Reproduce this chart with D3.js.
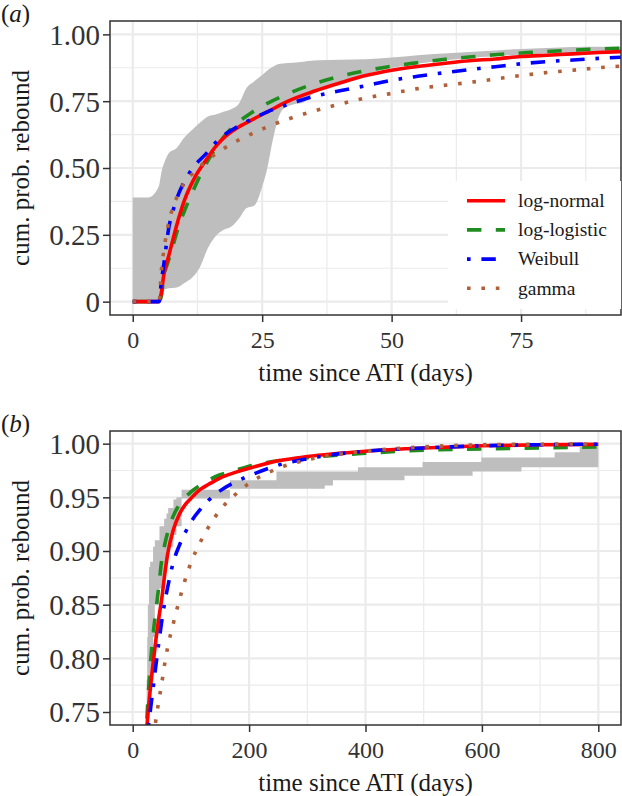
<!DOCTYPE html>
<html><head><meta charset="utf-8">
<script src="https://cdn.jsdelivr.net/npm/d3@7"></script>
<style>
body{margin:0;background:#fff}
svg{display:block}
text{font-family:"Liberation Serif","Times New Roman",serif}
</style>
</head><body>
<svg id="chart" width="622" height="796"></svg>
<script>
// ---------- Panel (a) data ----------
const seriesNames = ["log-normal", "log-logistic", "Weibull", "gamma"];
const seriesColors = ["#ff0000", "#1e8c1e", "#0000ff", "#b0603a"];

const aTime       = [0, 5.1, 5.5, 6, 7, 8, 9, 10, 12, 14, 16, 18, 20, 23, 26, 30, 35, 40, 45, 50, 55, 60, 65, 70, 75, 80, 85, 90, 95];
const aLogNormal  = [0, 0, 0.03, 0.10, 0.175, 0.25, 0.32, 0.38, 0.465, 0.525, 0.58, 0.62, 0.648, 0.68, 0.71, 0.75, 0.787, 0.818, 0.846, 0.866, 0.88, 0.891, 0.901, 0.908, 0.917, 0.922, 0.927, 0.932, 0.936];
const aLogLogistic= [0, 0, 0.02, 0.09, 0.16, 0.225, 0.29, 0.34, 0.43, 0.51, 0.573, 0.627, 0.665, 0.708, 0.742, 0.778, 0.815, 0.843, 0.864, 0.881, 0.894, 0.906, 0.915, 0.924, 0.93, 0.936, 0.941, 0.945, 0.949];
const aWeibull    = [0, 0, 0.07, 0.14, 0.28, 0.355, 0.41, 0.45, 0.51, 0.55, 0.595, 0.628, 0.652, 0.683, 0.71, 0.738, 0.768, 0.789, 0.808, 0.828, 0.843, 0.856, 0.868, 0.879, 0.89, 0.898, 0.904, 0.91, 0.915];
const aGamma      = [0, 0, 0.11, 0.19, 0.30, 0.365, 0.41, 0.445, 0.487, 0.524, 0.552, 0.578, 0.60, 0.628, 0.654, 0.683, 0.713, 0.739, 0.762, 0.779, 0.797, 0.809, 0.82, 0.833, 0.846, 0.857, 0.866, 0.875, 0.882];

const aBandTime  = [0, 3, 5, 5.6, 6.2, 7, 8.5, 10, 11.5, 13, 14.5, 16, 17.5, 19, 20.5, 22, 23.5, 25, 26, 27, 28, 29, 31, 33, 34, 36, 40, 45, 50, 55, 60, 65, 70, 75, 80, 85, 90, 95];
const aBandUpper = [0.39, 0.39, 0.43, 0.49, 0.525, 0.556, 0.575, 0.615, 0.643, 0.67, 0.693, 0.70, 0.71, 0.72, 0.74, 0.80, 0.825, 0.848, 0.865, 0.878, 0.888, 0.891, 0.894, 0.898, 0.90, 0.903, 0.905, 0.907, 0.913, 0.922, 0.928, 0.934, 0.94, 0.945, 0.949, 0.953, 0.954, 0.954];
const aBandLower = [0, 0, 0, 0.03, 0.046, 0.05, 0.053, 0.07, 0.09, 0.13, 0.20, 0.245, 0.268, 0.28, 0.31, 0.35, 0.36, 0.43, 0.50, 0.60, 0.68, 0.72, 0.738, 0.745, 0.765, 0.79, 0.822, 0.852, 0.874, 0.89, 0.902, 0.912, 0.918, 0.924, 0.928, 0.931, 0.934, 0.936];

const aXTicks = [0, 25, 50, 75];
const aXMinor = [12.5, 37.5, 62.5, 87.5];
const aYTicks = [0, 0.25, 0.5, 0.75, 1];
const aYMinor = [0.125, 0.375, 0.625, 0.875];

// ---------- Panel (b) data ----------
const bTime        = [20, 25, 30, 35, 40, 45, 50, 55, 60, 70, 80, 90, 100, 115, 130, 150, 175, 200, 250, 300, 400, 500, 600, 700, 800];
const bLogNormal   = [0.70, 0.74, 0.77, 0.795, 0.818, 0.838, 0.856, 0.878, 0.897, 0.92, 0.934, 0.943, 0.949, 0.957, 0.962, 0.968, 0.973, 0.977, 0.984, 0.988, 0.993, 0.996, 0.998, 0.999, 0.9993];
const bLogLogistic = [0.69, 0.75, 0.792, 0.822, 0.845, 0.868, 0.892, 0.906, 0.917, 0.933, 0.943, 0.95, 0.955, 0.961, 0.966, 0.971, 0.975, 0.979, 0.984, 0.987, 0.991, 0.994, 0.995, 0.996, 0.997];
const bWeibull     = [0.70, 0.728, 0.75, 0.772, 0.794, 0.815, 0.835, 0.852, 0.866, 0.89, 0.905, 0.917, 0.927, 0.938, 0.947, 0.956, 0.964, 0.97, 0.98, 0.986, 0.993, 0.996, 0.998, 0.999, 0.9995];
const bGamma       = [0.66, 0.685, 0.705, 0.725, 0.743, 0.761, 0.777, 0.795, 0.81, 0.833, 0.854, 0.873, 0.889, 0.907, 0.922, 0.938, 0.952, 0.963, 0.977, 0.985, 0.993, 0.997, 0.999, 0.9995, 0.9998];

const bBandTime  = [18, 22, 24, 25, 26, 28, 30, 35, 38, 46, 54, 58, 61, 70, 75, 84, 167, 247, 330, 344, 387, 467, 498, 584, 599, 668, 725, 768, 800];
const bBandUpper = [0.70, 0.74, 0.78, 0.82, 0.85, 0.885, 0.89, 0.904, 0.91, 0.923, 0.93, 0.935, 0.94, 0.948, 0.95, 0.957, 0.966, 0.974, 0.974, 0.974, 0.978, 0.978, 0.983, 0.983, 0.987, 0.987, 0.992, 0.997, 0.997];
const bBandLower = [0.50, 0.60, 0.70, 0.74, 0.75, 0.765, 0.78, 0.82, 0.85, 0.865, 0.885, 0.895, 0.904, 0.915, 0.923, 0.949, 0.958, 0.958, 0.961, 0.966, 0.966, 0.970, 0.970, 0.974, 0.974, 0.978, 0.978, 0.978, 0.978];

const bXTicks = [0, 200, 400, 600, 800];
const bXMinor = [100, 300, 500, 700];
const bYTicks = [0.75, 0.80, 0.85, 0.90, 0.95, 1.00];
const bYMinor = [0.775, 0.825, 0.875, 0.925, 0.975];

// ---------- Styles ----------
const LW = 3.6;
const dashes = [null, `${4*LW},${4*LW}`, `${LW},${3*LW},${4*LW},${3*LW}`, `${LW},${3*LW}`];

const svg = d3.select("#chart");

function panel(opts) {
  const {left, right, top, bottom, xDomain, yDomain, xTicks, xMinor, yTicks, yMinor,
         yFmt, label, band, bandCurve, time, series, id} = opts;
  const x = d3.scaleLinear().domain(xDomain).range([left, right]);
  const y = d3.scaleLinear().domain(yDomain).range([bottom, top]);
  const g = svg.append("g");

  g.append("clipPath").attr("id", id).append("rect")
    .attr("x", left).attr("y", top).attr("width", right - left).attr("height", bottom - top);

  // grid
  const grid = g.append("g");
  xMinor.forEach(v => grid.append("line").attr("x1", x(v)).attr("x2", x(v)).attr("y1", top).attr("y2", bottom)
    .attr("stroke", "#ebebeb").attr("stroke-width", 1.2));
  yMinor.forEach(v => grid.append("line").attr("y1", y(v)).attr("y2", y(v)).attr("x1", left).attr("x2", right)
    .attr("stroke", "#ebebeb").attr("stroke-width", 1.2));
  xTicks.forEach(v => grid.append("line").attr("x1", x(v)).attr("x2", x(v)).attr("y1", top).attr("y2", bottom)
    .attr("stroke", "#ebebeb").attr("stroke-width", 2.2));
  yTicks.forEach(v => grid.append("line").attr("y1", y(v)).attr("y2", y(v)).attr("x1", left).attr("x2", right)
    .attr("stroke", "#ebebeb").attr("stroke-width", 2.2));

  const plot = g.append("g").attr("clip-path", `url(#${id})`);
  // band
  const bandData = band.t.map((t, i) => ({t, lo: band.lo[i], hi: band.hi[i]}));
  plot.append("path").datum(bandData)
    .attr("fill", "#bebebe")
    .attr("d", d3.area().x(d => x(d.t)).y0(d => y(d.lo)).y1(d => y(d.hi)).curve(bandCurve));

  // lines: draw order log-logistic, log-normal, Weibull, gamma
  const order = [1, 0, 2, 3];
  order.forEach(k => {
    const vals = series[k];
    const data = time.map((t, i) => ({t, v: vals[i]}));
    plot.append("path").datum(data)
      .attr("fill", "none")
      .attr("stroke", seriesColors[k])
      .attr("stroke-width", LW)
      .attr("stroke-dasharray", dashes[k])
      .attr("d", d3.line().x(d => x(d.t)).y(d => y(d.v)).curve(d3.curveMonotoneX));
  });

  // border
  g.append("rect").attr("x", left).attr("y", top).attr("width", right - left).attr("height", bottom - top)
    .attr("fill", "none").attr("stroke", "#333333").attr("stroke-width", 1.5);

  // axes
  const xa = g.append("g").attr("transform", `translate(0,${bottom})`)
    .call(d3.axisBottom(x).tickValues(xTicks).tickSize(7).tickPadding(9).tickFormat(d3.format("d")));
  xa.select(".domain").remove();
  xa.selectAll("line").attr("stroke", "#333333").attr("stroke-width", 1.5);
  xa.selectAll("text").attr("font-size", 24).attr("fill", "#333333")
    .style("font-family", '"Liberation Serif", serif');

  const ya = g.append("g").attr("transform", `translate(${left},0)`)
    .call(d3.axisLeft(y).tickValues(yTicks).tickSize(7).tickPadding(3).tickFormat(yFmt));
  ya.select(".domain").remove();
  ya.selectAll("line").attr("stroke", "#333333").attr("stroke-width", 1.5);
  ya.selectAll("text").attr("font-size", 29).attr("fill", "#333333").attr("dy", "0.34em")
    .style("font-family", '"Liberation Serif", serif');

  // titles
  g.append("text").attr("x", (left + right) / 2).attr("y", bottom + 66)
    .attr("text-anchor", "middle").attr("font-size", 25).attr("fill", "#1a1a1a")
    .text("time since ATI (days)");
  g.append("text").attr("transform", `translate(29,${(top + bottom) / 2}) rotate(-90)`)
    .attr("text-anchor", "middle").attr("font-size", 25).attr("fill", "#1a1a1a")
    .text("cum. prob. rebound");

  // panel label
  const lab = g.append("text").attr("x", 1).attr("y", top + 1).attr("font-size", 25).attr("fill", "#1a1a1a");
  lab.append("tspan").text("(");
  lab.append("tspan").attr("font-style", "italic").text(label);
  lab.append("tspan").text(")");
  return {x, y, g};
}

const pa = panel({
  id: "clipA", left: 110, right: 621, top: 21, bottom: 315,
  xDomain: [-4.39, 94.3], yDomain: [-0.05, 1.05],
  xTicks: aXTicks, xMinor: aXMinor, yTicks: aYTicks, yMinor: aYMinor,
  yFmt: d => d === 0 ? "0" : d3.format(".2f")(d),
  label: "a",
  band: {t: aBandTime, lo: aBandLower, hi: aBandUpper}, bandCurve: d3.curveMonotoneX,
  time: aTime, series: [aLogNormal, aLogLogistic, aWeibull, aGamma]
});

const pb = panel({
  id: "clipB", left: 110, right: 621, top: 431, bottom: 725,
  xDomain: [-39, 839], yDomain: [0.7379, 1.0118],
  xTicks: bXTicks, xMinor: bXMinor, yTicks: bYTicks, yMinor: bYMinor,
  yFmt: d3.format(".2f"),
  label: "b",
  band: {t: bBandTime, lo: bBandLower, hi: bBandUpper}, bandCurve: d3.curveStepAfter,
  time: bTime, series: [bLogNormal, bLogLogistic, bWeibull, bGamma]
});

// legend (panel a)
const leg = svg.append("g");
leg.append("rect").attr("x", 448).attr("y", 181).attr("width", 173).attr("height", 128).attr("fill", "#ffffff");
seriesNames.forEach((name, i) => {
  const cy = 200.7 + i * 29.2;
  leg.append("line").attr("x1", 467).attr("x2", 505).attr("y1", cy).attr("y2", cy)
    .attr("stroke", seriesColors[i]).attr("stroke-width", LW)
    .attr("stroke-dasharray", dashes[i]);
  leg.append("text").attr("x", 518).attr("y", cy).attr("dy", "0.32em")
    .attr("font-size", 19.5).attr("fill", "#1a1a1a").text(name);
});
</script>
</body></html>
